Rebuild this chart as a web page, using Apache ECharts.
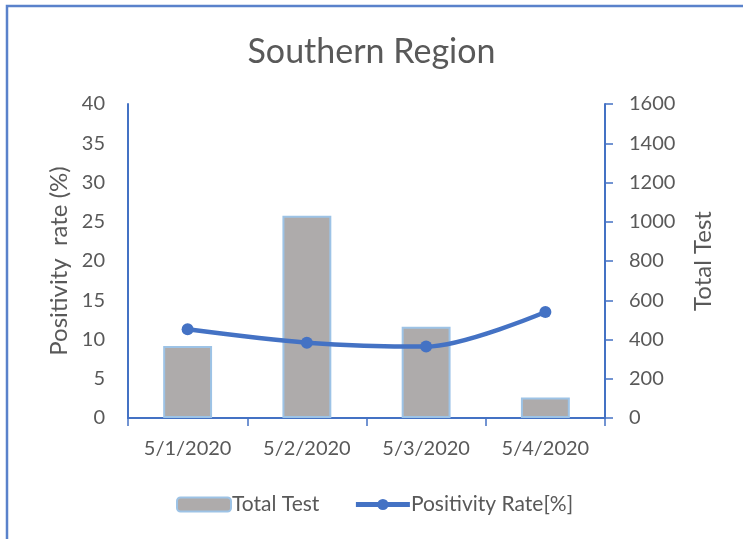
<!DOCTYPE html>
<html>
<head>
<meta charset="utf-8">
<script src="https://cdn.jsdelivr.net/npm/echarts@6/dist/echarts.min.js"></script>
<style>
  html, body { margin: 0; padding: 0; background: #fff; }
  #chart { width: 743px; height: 539px; }
</style>
</head>
<body>
<div id="chart"></div>
<script>
const categories = ['5/1/2020', '5/2/2020', '5/3/2020', '5/4/2020'];
const totalTest = [367, 1031, 465, 105];
const positivityRate = [11.3, 9.6, 9.1, 13.5];
const leftTicks = { min: 0, max: 40, interval: 5 };
const rightTicks = { min: 0, max: 1600, interval: 200 };

const txt = '#595959';
const blue = '#4472C4';
const font = 'Lato, "Open Sans", sans-serif';

const myChart = echarts.init(document.getElementById('chart'));
const option = {
  animation: false,
  textStyle: { fontFamily: font, color: txt },
  title: {
    text: 'Southern Region',
    left: 'center',
    top: 30,
    textStyle: { fontFamily: font, fontSize: 34, fontWeight: 'normal', color: txt }
  },
  graphic: [{
    type: 'polyline',
    shape: { points: [[7, 539], [7, 6], [743, 6]] },
    style: { stroke: '#5A82CB', lineWidth: 2.5, fill: null }
  }],
  legend: {
    left: 176,
    top: 494,
    padding: 0,
    itemWidth: 54,
    itemHeight: 14,
    itemGap: 34,
    textStyle: { fontFamily: font, fontSize: 21, color: txt, padding: [0, 0, 0, -4] },
    data: [
      { name: 'Total Test' },
      { name: 'Positivity Rate[%]', lineStyle: { width: 5 }, itemStyle: { color: blue } }
    ]
  },
  grid: { left: 128, right: 138, top: 104, bottom: 121 },
  xAxis: {
    type: 'category',
    data: categories,
    axisLine: { lineStyle: { color: blue, width: 2 } },
    axisTick: { show: true, interval: 0, length: 8, lineStyle: { color: blue, width: 1.5 } },
    axisLabel: { interval: 0, fontFamily: font, fontSize: 20, color: txt, margin: 21 }
  },
  yAxis: [
    {
      type: 'value',
      min: leftTicks.min, max: leftTicks.max, interval: leftTicks.interval,
      name: 'Positivity  rate (%)',
      nameLocation: 'middle',
      nameGap: 55,
      nameTextStyle: { fontFamily: font, fontSize: 24, color: txt },
      axisLine: { show: true, lineStyle: { color: blue, width: 2 } },
      axisTick: { show: false },
      splitLine: { show: false },
      axisLabel: { fontFamily: font, fontSize: 20, color: txt, margin: 23 }
    },
    {
      type: 'value',
      min: rightTicks.min, max: rightTicks.max, interval: rightTicks.interval,
      name: 'Total Test',
      nameLocation: 'middle',
      nameGap: 86,
      nameTextStyle: { fontFamily: font, fontSize: 24, color: txt },
      axisLine: { show: true, lineStyle: { color: blue, width: 2 } },
      axisTick: { show: true, length: 8, lineStyle: { color: blue, width: 1.5 } },
      splitLine: { show: false },
      axisLabel: { fontFamily: font, fontSize: 20, color: txt, margin: 24, formatter: v => String(v) }
    }
  ],
  series: [
    {
      name: 'Total Test',
      type: 'bar',
      yAxisIndex: 1,
      data: totalTest,
      barWidth: '41%',
      itemStyle: { color: '#AEABAB', borderColor: '#9DC3E6', borderWidth: 2 }
    },
    {
      name: 'Positivity Rate[%]',
      type: 'line',
      yAxisIndex: 0,
      data: positivityRate,
      smooth: 0.3,
      symbol: 'circle',
      symbolSize: 12,
      lineStyle: { color: blue, width: 4.5 },
      itemStyle: { color: blue }
    }
  ]
};
myChart.setOption(option);
</script>
</body>
</html>
